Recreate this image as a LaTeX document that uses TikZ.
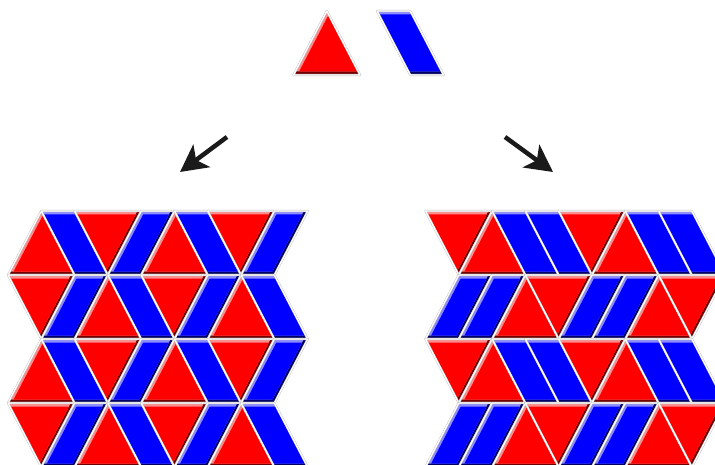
\documentclass[tikz,border=0pt]{standalone}
\usepackage{tikz}
\usetikzlibrary{arrows.meta}
\definecolor{rtile}{HTML}{FF0000}
\definecolor{btile}{HTML}{0000FF}
\definecolor{ink}  {HTML}{1A1A1A}
\colorlet{rtiledk}{rtile!45!black}
\colorlet{rtilelt}{rtile!45!white}
\colorlet{btiledk}{btile!40!black}
\colorlet{btilelt}{btile!45!white}
\tikzset{
  >=stealth,
  % --- tiles
  tileedge/.style = {draw=gray!55, double=white, double distance=1.3pt,
                     line width=0.4pt, line join=round},
  % --- arrows
  bigarrow/.style = {-{Stealth[length=27pt, width=28pt, inset=7pt]},
                     line width=4.5pt, draw=ink},
}
\def\ua{33.3}% half a triangle base
\def\rh{64}%   row height
% bevelled tile: #1 colour, #2 closed path
\newcommand{\tile}[2]{%
  \begin{scope}
    \clip #2;
    \fill[#1dk] #2;
    \fill[#1lt, shift={(-2,-3.5)}] #2;
    \clip[shift={(-2,-3.5)}] #2;
    \fill[#1, shift={(2,3.5)}] #2;
  \end{scope}
  \path[tileedge] #2;}
% triangle: #1 colour, #2 x of base left, #3 y of base, #4 y of apex
\newcommand{\tri}[4]{%
  \tile{#1}{({#2},{#3}) -- ({#2+\ua},{#4}) -- ({#2+2*\ua},{#3}) -- cycle}}
% parallelogram: #1 colour, #2 x of top left, #3 y of top, #4 slant of bottom
\newcommand{\para}[4]{%
  \tile{#1}{({#2},{#3}) -- ({#2+\ua},{#3}) -- ({#2+\ua+(#4)},{#3+\rh})
            -- ({#2+(#4)},{#3+\rh}) -- cycle}}

\begin{document}
\begin{tikzpicture}[x=1pt, y=-1pt]
  \useasboundingbox (0,0) rectangle (715,465);
  \clip (0,0) rectangle (715,465);

  % ------------------------------------------------------------------ pieces
  \tri{rtile}{293.5}{75}{11}
  \para{btile}{377}{11}{\ua}

  % ------------------------------------------------------------------ arrows
  \coordinate (ltail) at (227,137);
  \coordinate (lhead) at (180,172);
  \coordinate (rtail) at (505,137);
  \coordinate (rhead) at (553,172);
  \draw[bigarrow] (ltail) -- (lhead);
  \draw[bigarrow] (rtail) -- (rhead);

  % ------------------------------------------------------------------ left tiling
  \foreach \r in {0,...,3}{
    \pgfmathsetmacro\yt{211+\rh*\r}
    \pgfmathsetmacro\yb{\yt+\rh}
    \foreach \p in {0,4}{
      \pgfmathsetmacro\X{8+\p*\ua}
      \ifodd\r
        \tri{rtile}{\X}{\yt}{\yb}
        \para{btile}{\X+2*\ua}{\yt}{-\ua}
        \tri{rtile}{\X+2*\ua}{\yb}{\yt}
        \para{btile}{\X+3*\ua}{\yt}{\ua}
      \else
        \tri{rtile}{\X}{\yb}{\yt}
        \para{btile}{\X+\ua}{\yt}{\ua}
        \tri{rtile}{\X+2*\ua}{\yt}{\yb}
        \para{btile}{\X+4*\ua}{\yt}{-\ua}
      \fi
    }
  }

  % ------------------------------------------------------------------ right tiling
  \foreach \r in {0,...,3}{
    \pgfmathsetmacro\yt{211+\rh*\r}
    \pgfmathsetmacro\yb{\yt+\rh}
    \foreach \p in {0,4}{
      \pgfmathsetmacro\X{425.5+\p*\ua}
      \ifodd\r
        \para{btile}{\X+\ua}{\yt}{-\ua}
        \para{btile}{\X+2*\ua}{\yt}{-\ua}
        \tri{rtile}{\X+2*\ua}{\yb}{\yt}
        \tri{rtile}{\X+3*\ua}{\yt}{\yb}
      \else
        \tri{rtile}{\X}{\yt}{\yb}
        \tri{rtile}{\X+\ua}{\yb}{\yt}
        \para{btile}{\X+2*\ua}{\yt}{\ua}
        \para{btile}{\X+3*\ua}{\yt}{\ua}
      \fi
    }
  }
\end{tikzpicture}
\end{document}
